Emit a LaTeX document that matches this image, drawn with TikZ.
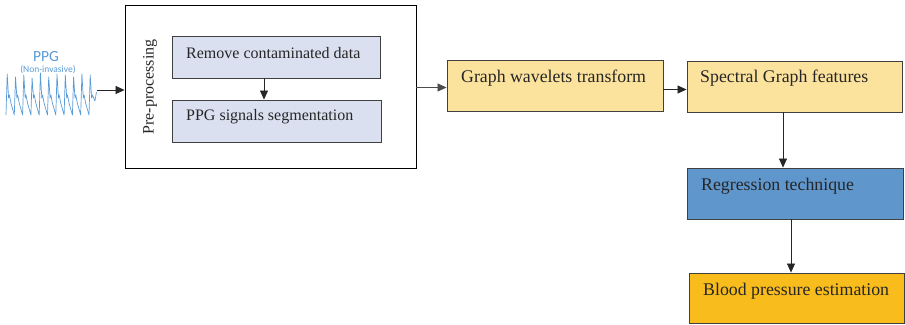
\documentclass[tikz,border=0pt]{standalone}
\usepackage{fontspec}
\setmainfont{Liberation Serif}
\newfontfamily\ppgfont{Carlito}
\usetikzlibrary{arrows.meta,calc}
\definecolor{lavbox}{HTML}{DAE0F0}
\definecolor{sandbox}{HTML}{FBE29D}
\definecolor{regblue}{HTML}{5F97CC}
\definecolor{ambox}{HTML}{F8BC1C}
\definecolor{wave}{HTML}{5B9BD5}
\definecolor{edgegray}{HTML}{404040}
\begin{document}
\begin{tikzpicture}[x=1pt,y=-1pt,
  box/.style={draw=edgegray, line width=0.9pt, rectangle, inner sep=0pt},
  lbl/.style={anchor=west, font=\fontsize{16}{19}\selectfont, text=black!85, inner sep=0pt},
  biglbl/.style={lbl, font=\fontsize{17.8}{21}\selectfont},
  flow/.style={-{Triangle[length=9pt,width=8pt]}, line width=0.8pt, draw=black!85}]
\useasboundingbox (0,0) rectangle (905,324);

% PPG input signal
\node[text=wave, font=\ppgfont\fontsize{15.5}{16}\selectfont, inner sep=0pt] (ppgt) at (46,56.5) {PPG};
\node[text=wave, font=\ppgfont\fontsize{9.5}{10}\selectfont, inner sep=0pt] (ppgs) at (48,70) {(Non-invasive)};
\draw[wave, line width=0.7pt, line join=round] (6,115)
  \foreach \h in {41,38,40,37,42,38,41,40,38,41} {
    -- ++(1.2,-\h) -- ++(1.4,\h-17) -- ++(0.8,-3) -- ++(1.5,8) -- ++(3.4,12)
  }
  -- ++(1.2,-40) -- ++(1.4,23) -- ++(0.8,-3) -- ++(2.5,6) -- (96.5,92);
\coordinate (sig) at (97,90);

% Pre-processing stage
\node[box, draw=black, minimum width=291pt, minimum height=163pt] (pre) at (270.5,86.5) {};
\node[lbl, anchor=center, rotate=90] (pretxt) at (150,87) {Pre-processing};
\node[box, fill=lavbox, minimum width=208pt, minimum height=42pt] (rm) at (276,57) {};
\node[lbl] (rmtxt) at (186,53) {Remove contaminated data};
\node[box, fill=lavbox, minimum width=209pt, minimum height=42pt] (seg) at (276.5,121) {};
\node[lbl] (segtxt) at (186,117) {PPG signals segmentation};

% Feature extraction and estimation
\node[box, fill=sandbox, minimum width=216pt, minimum height=51pt] (gw) at (555,85.5) {};
\node[biglbl] (gwtxt) at (461,78) {Graph wavelets transform};
\node[box, fill=sandbox, minimum width=215pt, minimum height=51pt] (sg) at (794.5,86.5) {};
\node[biglbl] (sgtxt) at (700,78) {Spectral Graph features};
\node[box, fill=regblue, minimum width=216pt, minimum height=51pt] (reg) at (795,193.5) {};
\node[biglbl] (regtxt) at (701,186) {Regression technique};
\node[box, fill=ambox, minimum width=215pt, minimum height=50pt] (bp) at (796.5,298) {};
\node[biglbl] (bptxt) at (703,291) {Blood pressure estimation};

% Connectors
\draw[flow] (sig) -- (sig -| pre.west);
\draw[flow] ([xshift=-12pt]rm.south) -- ([xshift=-12pt]rm.south |- seg.north);
\draw[flow, draw=black!70] ([yshift=-2pt]gw.west -| pre.east) -- ([yshift=-2pt]gw.west);
\draw[flow] ([yshift=-4pt]gw.east) -- ([yshift=-4pt]gw.east -| sg.west);
\draw[flow] ([xshift=-11.5pt]sg.south) -- ([xshift=-11.5pt]sg.south |- reg.north);
\draw[flow] ([xshift=-4pt]reg.south) -- ([xshift=-4pt]reg.south |- bp.north);
\end{tikzpicture}
\end{document}
